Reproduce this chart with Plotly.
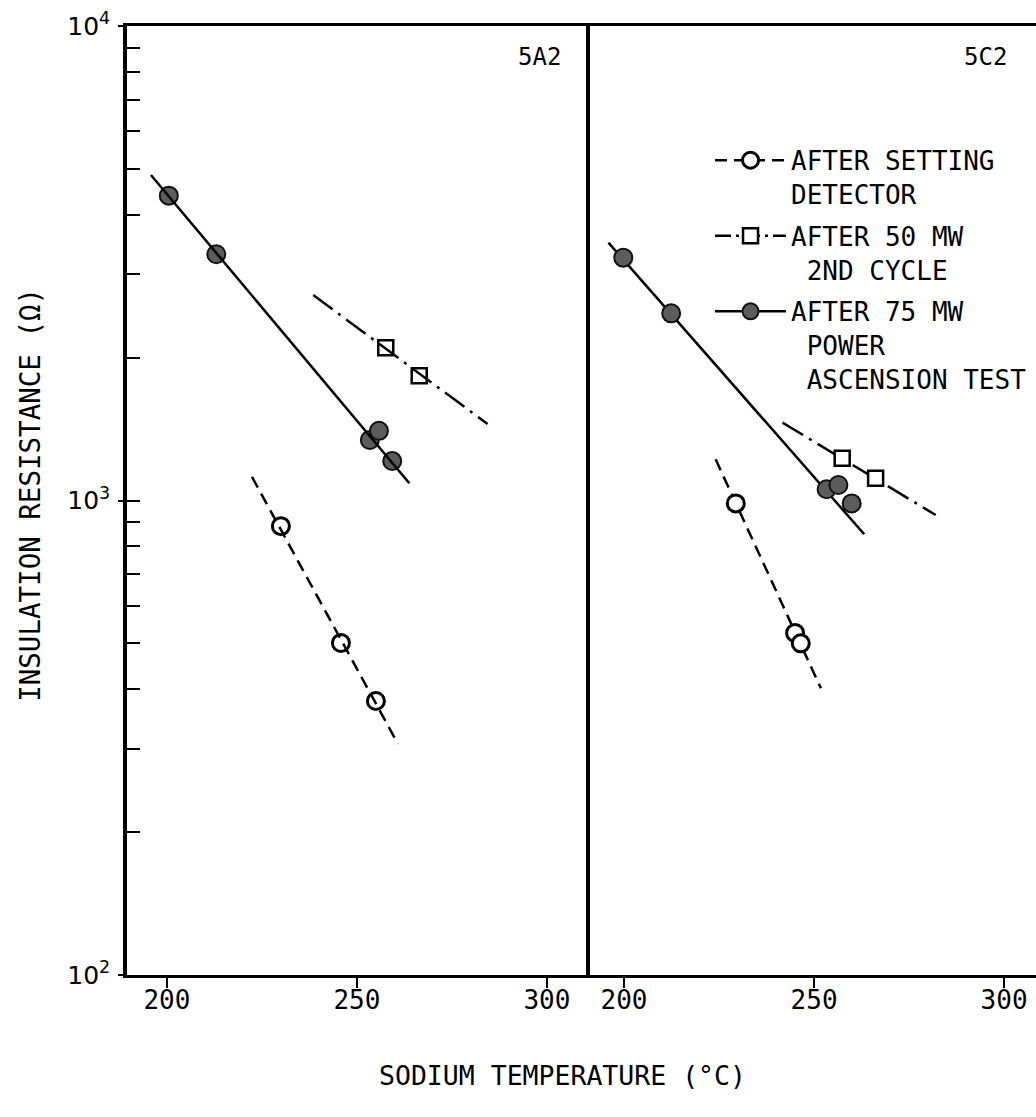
import plotly.graph_objects as go

# ---------------- data ----------------
# Panel 5A2
a_open_x = [230.0, 245.8, 255.0]
a_open_y = [883, 501, 378]
a_open_fit_x = [222.4, 260.8]
a_open_fit_y = [1121, 307]

a_sq_x = [257.6, 266.4]
a_sq_y = [2099, 1833]
a_sq_fit_x = [238.5, 284.4]
a_sq_fit_y = [2710, 1449]

a_fill_x = [200.5, 213.0, 253.4, 255.8, 259.3]
a_fill_y = [4390, 3303, 1341, 1402, 1211]
a_fill_fit_x = [195.8, 263.8]
a_fill_fit_y = [4853, 1087]

# Panel 5C2
c_open_x = [229.4, 245.0, 246.5]
c_open_y = [986, 526, 500]
c_open_fit_x = [224.1, 251.8]
c_open_fit_y = [1221, 402]

c_sq_x = [257.4, 266.2]
c_sq_y = [1227, 1114]
c_sq_fit_x = [241.7, 282.0]
c_sq_fit_y = [1459, 932]

c_fill_x = [199.8, 212.4, 253.3, 256.4, 259.9]
c_fill_y = [3249, 2480, 1056, 1078, 986]
c_fill_fit_x = [195.9, 263.2]
c_fill_fit_y = [3494, 849]

x_ticks = [200, 250, 300]
y_major = [100, 1000, 10000]
y_major_text = ["10<sup>2</sup>", "10<sup>3</sup>", "10<sup>4</sup>"]
y_minor = [200, 300, 400, 500, 600, 700, 800, 900,
           2000, 3000, 4000, 5000, 6000, 7000, 8000, 9000]

legend_names = ["AFTER SETTING<br>DETECTOR",
                "AFTER 50 MW<br>\u00a02ND CYCLE",
                "AFTER 75 MW<br>\u00a0POWER<br>\u00a0ASCENSION TEST"]

# ---------------- styles ----------------
FONT = "DejaVu Sans Mono"
open_marker = dict(symbol="circle", size=17, color="white",
                   line=dict(color="black", width=3))
sq_marker = dict(symbol="square", size=15, color="white",
                 line=dict(color="black", width=2.5))
fill_marker = dict(symbol="circle", size=18, color="#5c5c5c",
                   line=dict(color="#111111", width=2))
dash_line = dict(color="black", width=2.5, dash="12px,7px")
dashdot_line = dict(color="black", width=2.5, dash="16px,5px,3px,5px")
solid_line = dict(color="black", width=2.5)

fig = go.Figure()


def add_panel(xa, ya, ya_fit, ox, oy, ofx, ofy, sx, sy, sfx, sfy, fx, fy, ffx, ffy):
    fig.add_trace(go.Scatter(x=ofx, y=ofy, mode="lines", line=dash_line,
                             showlegend=False, xaxis=xa, yaxis=ya_fit, hoverinfo="skip"))
    fig.add_trace(go.Scatter(x=sfx, y=sfy, mode="lines",
                             line=dict(dashdot_line, dash="24px,7px,3px,7px"),
                             showlegend=False, xaxis=xa, yaxis=ya_fit, hoverinfo="skip"))
    fig.add_trace(go.Scatter(x=ffx, y=ffy, mode="lines", line=solid_line,
                             showlegend=False, xaxis=xa, yaxis=ya_fit, hoverinfo="skip"))
    fig.add_trace(go.Scatter(x=ox, y=oy, mode="markers", marker=open_marker,
                             showlegend=False, xaxis=xa, yaxis=ya))
    fig.add_trace(go.Scatter(x=sx, y=sy, mode="markers", marker=sq_marker,
                             showlegend=False, xaxis=xa, yaxis=ya))
    fig.add_trace(go.Scatter(x=fx, y=fy, mode="markers", marker=fill_marker,
                             showlegend=False, xaxis=xa, yaxis=ya))


add_panel("x", "y", "y3", a_open_x, a_open_y, a_open_fit_x, a_open_fit_y,
          a_sq_x, a_sq_y, a_sq_fit_x, a_sq_fit_y,
          a_fill_x, a_fill_y, a_fill_fit_x, a_fill_fit_y)
add_panel("x2", "y2", "y2", c_open_x, c_open_y, c_open_fit_x, c_open_fit_y,
          c_sq_x, c_sq_y, c_sq_fit_x, c_sq_fit_y,
          c_fill_x, c_fill_y, c_fill_fit_x, c_fill_fit_y)

# legend-only entries
for i, (name, ln, mk) in enumerate(zip(legend_names,
                                       [dash_line, dashdot_line, solid_line],
                                       [open_marker, sq_marker, fill_marker])):
    fig.add_trace(go.Scatter(x=[None], y=[None], mode="lines+markers",
                             name=name, line=ln, marker=mk, legendgroup=f"g{i}",
                             xaxis="x2", yaxis="y2", showlegend=True))

axis_common = dict(showgrid=False, zeroline=False, showline=True,
                   linecolor="black", linewidth=3, mirror=True,
                   ticks="outside", ticklen=10, tickwidth=2, tickcolor="black",
                   ticklabelstandoff=-10,
                   tickfont=dict(family=FONT, size=26, color="black"),
                   tickmode="array", tickvals=x_ticks)

fig.update_layout(
    width=1036, height=1117,
    margin=dict(l=127, r=0, t=26, b=142),
    paper_bgcolor="white", plot_bgcolor="white",
    font=dict(family=FONT, color="black"),
    xaxis=dict(domain=[0, 0.505], range=[189.5, 310.3], anchor="y", **axis_common),
    xaxis2=dict(domain=[0.505, 1.0], range=[190.0, 308.4], anchor="y2", **axis_common),
    # main y axis: labels at decades, ticks pointing into the panel at every value
    yaxis=dict(type="log", range=[2, 4], anchor="x", side="left",
               showgrid=False, zeroline=False,
               showline=True, linecolor="black", linewidth=3.5, mirror=True,
               tickmode="array", tickvals=y_major + y_minor,
               ticktext=y_major_text + [""] * len(y_minor),
               ticks="inside", ticklen=13, tickwidth=2, tickcolor="black",
               ticklabelstandoff=8,
               tickfont=dict(family="DejaVu Sans", size=25, color="black")),
    # short outward ticks at the decades
    yaxis3=dict(type="log", range=[2, 4], anchor="x", overlaying="y", side="left",
                showgrid=False, zeroline=False, showline=False, showticklabels=False,
                tickmode="array", tickvals=y_major, ticks="outside",
                ticklen=8, tickwidth=2, tickcolor="black"),
    yaxis2=dict(type="log", range=[2, 4], anchor="x2", showgrid=False, zeroline=False,
                showline=False, showticklabels=False, ticks=""),
    legend=dict(x=0.6414, y=0.8833, xanchor="left", yanchor="top",
                bgcolor="rgba(0,0,0,0)", borderwidth=0, valign="top",
                itemwidth=71, tracegroupgap=5,
                font=dict(family=FONT, size=26, color="black")),
    annotations=[
        dict(text="INSULATION RESISTANCE (\u03a9)", xref="paper", yref="paper",
             x=-0.1067, y=0.506, textangle=-90, showarrow=False,
             xanchor="center", yanchor="middle",
             font=dict(family=FONT, size=27.5, color="black")),
        dict(text="SODIUM TEMPERATURE (\u00b0C)", xref="paper", yref="paper",
             x=0.4796, y=-0.1054, showarrow=False, xanchor="center", yanchor="middle",
             font=dict(family=FONT, size=26.5, color="black")),
        dict(text="5A2", xref="paper", yref="paper", x=0.454, y=0.967,
             showarrow=False, xanchor="center", yanchor="middle",
             font=dict(family=FONT, size=24, color="black")),
        dict(text="5C2", xref="paper", yref="paper", x=0.944, y=0.967,
             showarrow=False, xanchor="center", yanchor="middle",
             font=dict(family=FONT, size=24, color="black")),
    ],
)

fig.write_html("out.html")
